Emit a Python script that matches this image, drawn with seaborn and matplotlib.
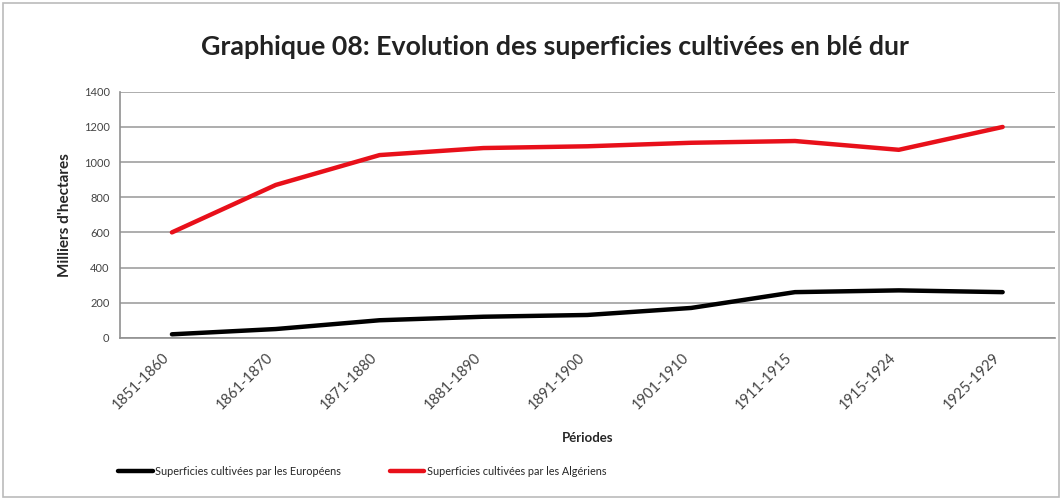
import numpy as np
import pandas as pd
import matplotlib
matplotlib.use("Agg")
import matplotlib.pyplot as plt
import matplotlib.transforms as mtransforms
import seaborn as sns
from matplotlib.patches import Rectangle

periodes = ["1851-1860", "1861-1870", "1871-1880", "1881-1890", "1891-1900",
            "1901-1910", "1911-1915", "1915-1924", "1925-1929"]
europeens = [20, 50, 100, 120, 130, 170, 260, 270, 260]
algeriens = [600, 870, 1040, 1080, 1090, 1110, 1120, 1070, 1200]
noms = ["Superficies cultivées par les Européens",
        "Superficies cultivées par les Algériens"]

df = pd.DataFrame({
    "periode": periodes * 2,
    "valeur": europeens + algeriens,
    "serie": [noms[0]] * len(periodes) + [noms[1]] * len(periodes),
})

sns.set_theme(style="white")
plt.rcParams['font.family'] = ['Lato', 'DejaVu Sans']

fig = plt.figure(figsize=(10.62, 4.99), dpi=100)
ax = fig.add_axes([0.113, 0.323, 0.880, 0.493])

sns.lineplot(data=df, x="periode", y="valeur", hue="serie",
             palette={noms[0]: "black", noms[1]: "#e8101a"},
             linewidth=3.2, ax=ax, sort=False)

ax.set_xlim(-0.5, len(periodes) - 0.5)
ax.set_ylim(0, 1400)
ax.set_yticks(np.arange(0, 1401, 200))
ax.yaxis.grid(True, color="#a0a0a0", linewidth=1.2)
ax.set_axisbelow(True)
for s in ["top", "right"]:
    ax.spines[s].set_visible(False)
for s in ["left", "bottom"]:
    ax.spines[s].set_color("#909090")
    ax.spines[s].set_linewidth(1.2)

ax.set_xticks(range(len(periodes)))
ax.set_xticklabels(periodes, rotation=45, ha="right", fontsize=10.5, color="#444444")
# labels sit a little right of the category centre in the original
shift = mtransforms.ScaledTranslation(8 / 100, 0, fig.dpi_scale_trans)
for lab in ax.get_xticklabels():
    lab.set_transform(lab.get_transform() + shift)
ax.set_xticks(np.arange(-0.5, len(periodes), 1), minor=True)
ax.tick_params(axis="x", which="major", length=0, pad=9)
ax.tick_params(axis="x", which="minor", length=5, color="#909090", direction="inout")
ax.tick_params(axis="y", length=4, color="#909090", labelsize=8, labelcolor="#444444")

ax.set_xlabel("Périodes", fontsize=9.5, fontweight="bold", labelpad=14)
ax.set_ylabel("Milliers d'hectares", fontsize=11, fontweight="bold", labelpad=8)

fig.suptitle("Graphique 08: Evolution des superficies cultivées en blé dur",
             x=0.523, y=0.93, fontsize=19.3, fontweight="bold", color="#222222")

handles, labels = ax.get_legend_handles_labels()
ax.get_legend().remove()
fig.legend(handles, labels, loc="center", bbox_to_anchor=(0.341, 0.056), ncol=2,
           frameon=False, fontsize=7.8, handlelength=3.2, handletextpad=0.2,
           columnspacing=4.5)

fig.patches.append(Rectangle((0.003, 0.004), 0.994, 0.99, transform=fig.transFigure,
                             fill=False, edgecolor="#bbbbbb", linewidth=1.2))

fig.savefig("out.png", dpi=100)
